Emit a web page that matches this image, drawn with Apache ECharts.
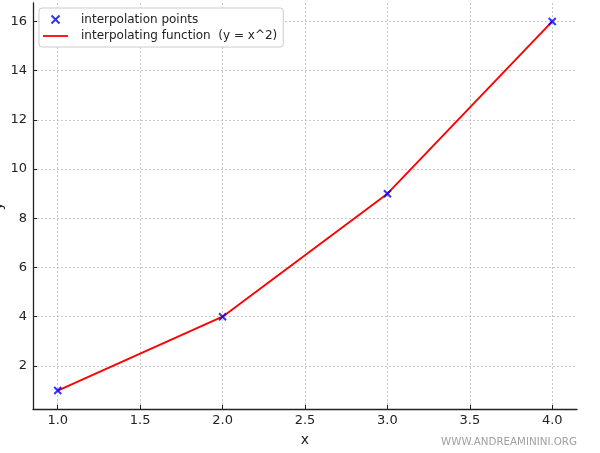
<!DOCTYPE html>
<html>
<head>
<meta charset="utf-8">
<script src="https://cdn.jsdelivr.net/npm/echarts@6/dist/echarts.min.js"></script>
<style>html,body{margin:0;padding:0;background:#fff}#c{width:600px;height:453px}</style>
</head>
<body>
<div id="c"></div>
<script>
const xPoints = [1, 2, 3, 4];
const yPoints = [1, 4, 9, 16];
const xTicks = [1.0, 1.5, 2.0, 2.5, 3.0, 3.5, 4.0];
const yTicks = [2, 4, 6, 8, 10, 12, 14, 16];
const seriesNames = ['interpolation points', 'interpolating function  (y = x^2)'];

const pts = xPoints.map((x, i) => [x, yPoints[i]]);
const font = 'DejaVu Sans';
const xMark = 'path://M0,0L10,10M10,0L0,10';
const lineIcon = 'path://M0,0H25V1.8H0Z';

const chart = echarts.init(document.getElementById('c'), null, {renderer: 'canvas'});
chart.setOption({
  animation: false,
  backgroundColor: '#fff',
  textStyle: {fontFamily: font},
  grid: {left: 33, right: 23, top: 3, bottom: 44, containLabel: false, outerBoundsMode: 'none'},
  xAxis: {
    type: 'value', min: 0.85, max: 4.15,
    name: 'x', nameLocation: 'middle', nameGap: 24,
    nameTextStyle: {fontFamily: font, fontSize: 14, color: '#222'},
    axisLine: {show: true, lineStyle: {color: '#222', width: 1.3}},
    axisTick: {show: true, inside: true, length: 4, customValues: xTicks, lineStyle: {color: '#222'}},
    axisLabel: {customValues: xTicks, formatter: v => v.toFixed(1), fontFamily: font, fontSize: 13, color: '#222', margin: 5},
    splitLine: {show: true, lineStyle: {color: '#c8c8c8', type: [2, 2], width: 1}}
  },
  yAxis: {
    type: 'value', min: 0.25, max: 16.75,
    name: 'y', nameLocation: 'middle', nameGap: 28, nameMoveOverlap: false,
    nameTextStyle: {fontFamily: font, fontSize: 14, color: '#222'},
    axisLine: {show: true, lineStyle: {color: '#222', width: 1.3}},
    axisTick: {show: true, inside: true, length: 4, customValues: yTicks, lineStyle: {color: '#222'}},
    axisLabel: {customValues: yTicks, fontFamily: font, fontSize: 13, color: '#222', margin: 6},
    splitLine: {show: true, lineStyle: {color: '#c8c8c8', type: [2, 2], width: 1}}
  },
  legend: {
    orient: 'vertical', left: 39, top: 8,
    padding: [5, 6, 5, 4], itemGap: 4,
    itemWidth: 25, itemHeight: 8, symbolKeepAspect: true,
    backgroundColor: '#fff', borderColor: '#cccccc', borderWidth: 1, borderRadius: 3,
    textStyle: {fontFamily: font, fontSize: 12, color: '#222', padding: [0, 0, 0, 8]},
    data: [
      {name: seriesNames[0], icon: xMark, itemStyle: {color: 'none', borderColor: '#0000ff', borderWidth: 2}},
      {name: seriesNames[1], icon: lineIcon, itemStyle: {color: '#ff0000', borderWidth: 0}}
    ]
  },
  series: [
    {
      name: seriesNames[1], type: 'line', data: pts, symbol: 'none',
      lineStyle: {color: '#ff0000', width: 1.9}, itemStyle: {color: '#ff0000'}, z: 2
    },
    {
      name: seriesNames[0], type: 'scatter', data: pts, symbol: xMark, symbolSize: 7,
      symbolKeepAspect: true,
      itemStyle: {color: 'none', borderColor: '#0000ff', borderWidth: 2}, z: 3
    }
  ],
  graphic: [{
    type: 'text', right: 23, top: 437,
    style: {text: 'WWW.ANDREAMININI.ORG', fill: '#a0a0a0', font: '10.3px "DejaVu Sans"'}
  }]
});
</script>
</body>
</html>
